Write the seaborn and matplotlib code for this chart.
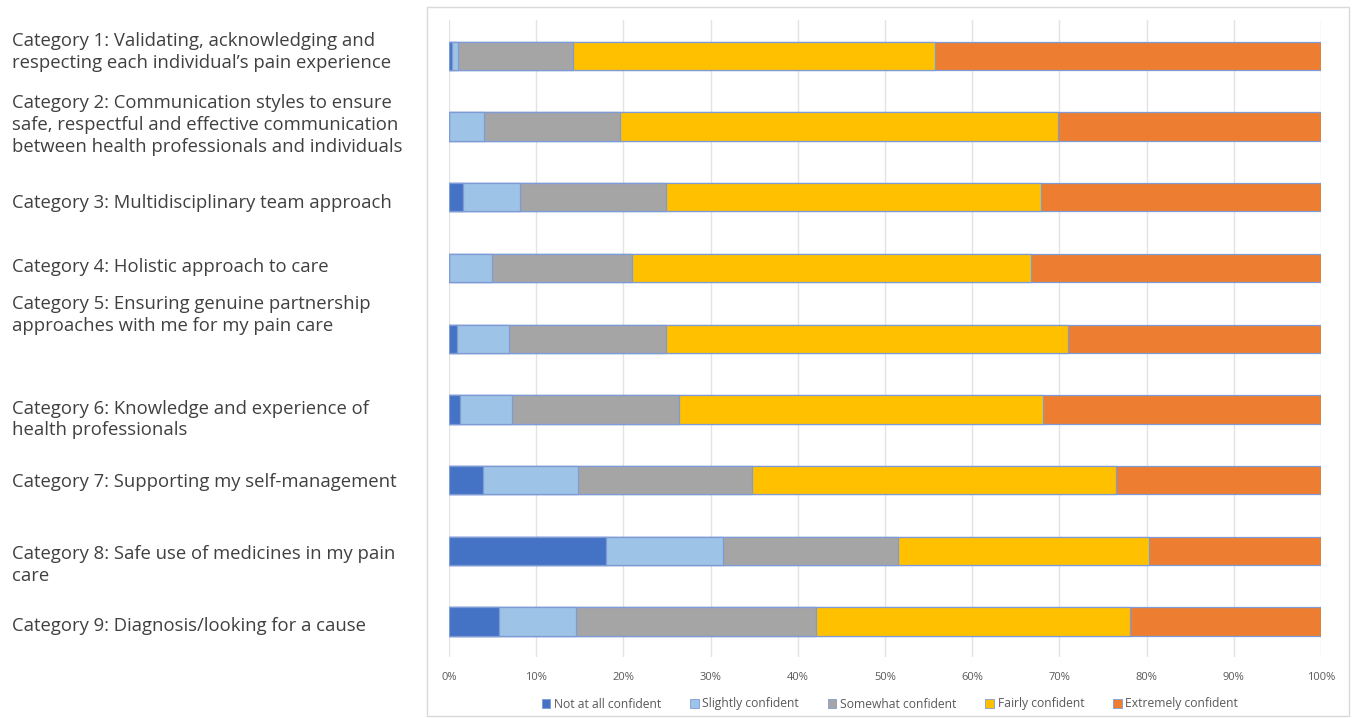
import matplotlib
matplotlib.use("Agg")
import matplotlib.pyplot as plt
import matplotlib.transforms as mtransforms
from matplotlib.patches import Patch, Rectangle
import numpy as np
import pandas as pd
import seaborn as sns

categories = [
    "Category 1: Validating, acknowledging and\nrespecting each individual\u2019s pain experience",
    "Category 2: Communication styles to ensure\nsafe, respectful and effective communication\nbetween health professionals and individuals",
    "Category 3: Multidisciplinary team approach",
    "Category 4: Holistic approach to care",
    "Category 5: Ensuring genuine partnership\napproaches with me for my pain care",
    "Category 6: Knowledge and experience of\nhealth professionals",
    "Category 7: Supporting my self-management",
    "Category 8: Safe use of medicines in my pain\ncare",
    "Category 9: Diagnosis/looking for a cause",
]
series_names = ["Not at all confident", "Slightly confident", "Somewhat confident",
                "Fairly confident", "Extremely confident"]
not_at_all = [0.4, 0.0, 1.6, 0.0, 0.9, 1.3, 3.9, 18.0, 5.7]
slightly = [0.6, 4.0, 6.5, 4.9, 6.0, 5.9, 10.9, 13.4, 8.9]
somewhat = [13.2, 15.6, 16.8, 16.1, 18.0, 19.2, 19.9, 20.1, 27.5]
fairly = [41.5, 50.2, 43.0, 45.7, 46.1, 41.7, 41.8, 28.8, 36.0]
extremely = [44.3, 30.2, 32.1, 33.3, 29.0, 31.9, 23.5, 19.7, 21.9]
tick_labels = ["0%", "10%", "20%", "30%", "40%", "50%", "60%", "70%", "80%", "90%", "100%"]

colors = ["#4472C4", "#9DC3E6", "#A5A5A5", "#FFC000", "#ED7D31"]
label_offsets_px = [-4, -2, 6, -1, -24, 10, 2, 14, 4]

sns.set_theme(style="white")
plt.rcParams["font.family"] = ["Open Sans", "DejaVu Sans"]

W, H = 1354, 718
fig = plt.figure(figsize=(W / 100, H / 100), dpi=100)
ax = fig.add_axes([449 / W, 1 - 657 / H, (1321 - 449) / W, (657 - 20.5) / H])

short = [f"c{i}" for i in range(len(categories))]
vals = np.array([not_at_all, slightly, somewhat, fairly, extremely])
cum = np.cumsum(vals, axis=0)
cum = cum / cum[-1] * 100

for k in range(len(series_names) - 1, -1, -1):
    df = pd.DataFrame({"cat": short, "v": cum[k]})
    sns.barplot(data=df, x="v", y="cat", orient="h", color=colors[k], width=0.4,
                saturation=1, edgecolor="#7F9BD6", linewidth=0.9, ax=ax, zorder=3)

ax.set_xlim(0, 100)
ax.set_ylim(len(categories) - 0.5, -0.5)
ax.set_xticks(np.arange(0, 101, 10))
ax.set_xticklabels(tick_labels, fontsize=8, color="#595959")
ax.tick_params(axis="x", length=0, pad=11)
ax.set_xlabel("")
ax.set_ylabel("")
ax.grid(axis="x", color="#E3E3E3", linewidth=1, zorder=0)
ax.set_axisbelow(True)
for s in ax.spines.values():
    s.set_visible(False)

ax.set_yticks(range(len(categories)))
ax.set_yticklabels(categories, fontsize=13.3, color="#404040", ha="left", va="center",
                   linespacing=1.28)
ax.tick_params(axis="y", length=0, pad=(449 - 12) * 0.72)
for lab, off in zip(ax.get_yticklabels(), label_offsets_px):
    lab.set_transform(lab.get_transform() +
                      mtransforms.ScaledTranslation(0, -off / 100, fig.dpi_scale_trans))

# chart frame
fig.patches.append(Rectangle((427 / W, 1 - 716 / H), (1349 - 427) / W, (716 - 7) / H,
                             transform=fig.transFigure, fill=False,
                             edgecolor="#D9D9D9", linewidth=1))

handles = [Patch(facecolor=c, edgecolor="#7F9BD6", linewidth=0.6, label=n)
           for c, n in zip(colors, series_names)]
fig.legend(handles=handles, loc="center", bbox_to_anchor=(890 / W, 1 - 704 / H),
           ncol=5, frameon=False, fontsize=8.7, handlelength=0.7, handleheight=0.7,
           handletextpad=0.3, columnspacing=2.4, labelcolor="#595959")

fig.savefig("out.png", dpi=100)
